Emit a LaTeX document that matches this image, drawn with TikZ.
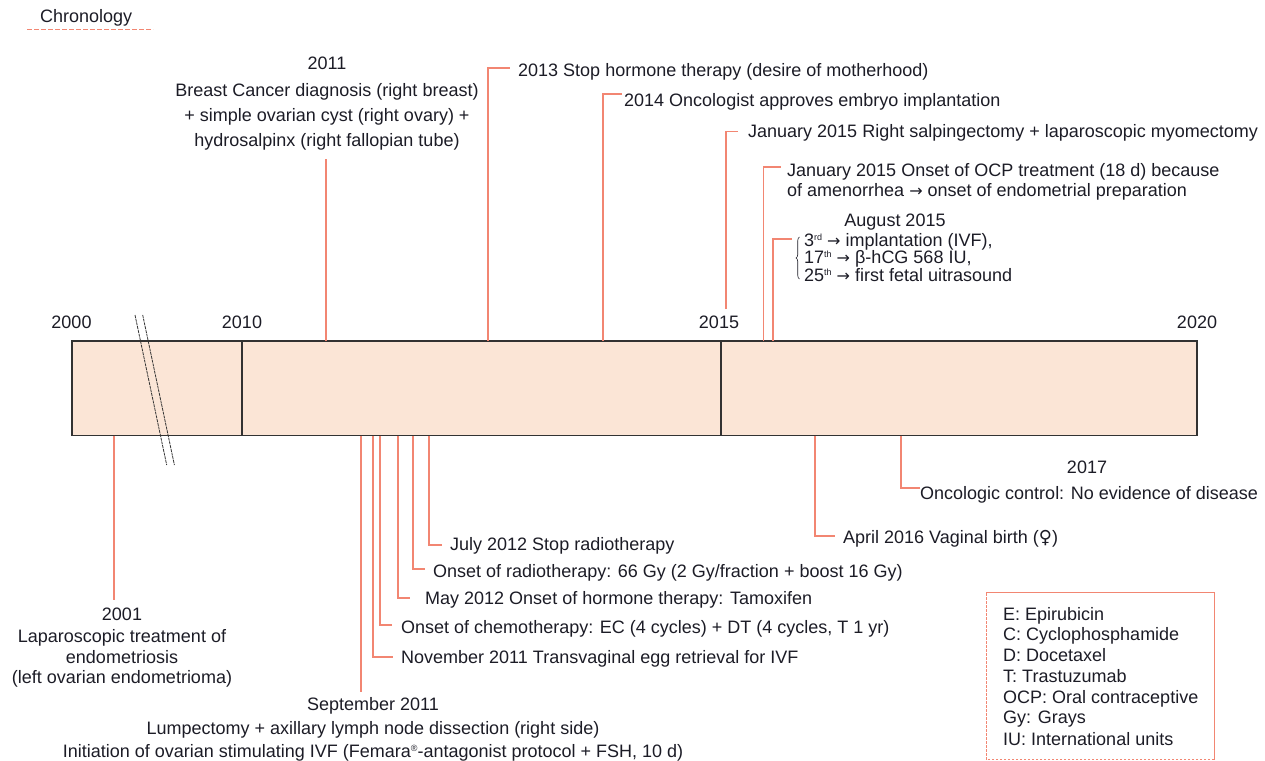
\documentclass[tikz,border=0pt]{standalone}
\usepackage{fontspec}
\setmainfont{Liberation Sans}
\newfontfamily\symfont{DejaVu Sans}
\usetikzlibrary{decorations.pathreplacing}
\definecolor{salmon}{RGB}{242,134,114}
\definecolor{barfill}{RGB}{251,229,214}
\definecolor{ink}{RGB}{28,28,38}
\definecolor{barline}{RGB}{50,50,50}
\newcommand{\rarr}{{\symfont\fontsize{16}{16}\selectfont →}}
\newcommand{\supx}[1]{\raisebox{6pt}{\fontsize{9}{9}\selectfont #1}}
\newcommand{\regmark}{\raisebox{0.28em}{\fontsize{9}{9}\selectfont ®}}
\tikzset{
  conn/.style={draw=salmon, line width=1.3pt},
  txt/.style={inner sep=0pt, text=ink, font=\fontsize{18}{21}\selectfont},
  lt/.style={txt, anchor=base west},
  ct/.style={txt, anchor=base},
  barbox/.style={draw=barline, fill=barfill, line width=1.3pt},
  divider/.style={draw=barline, line width=1.3pt},
  breakline/.style={draw=barline, line width=0.8pt, dash pattern=on 3pt off 0.8pt},
  bracestyle/.style={draw=ink, line width=0.6pt, decorate, decoration={brace, amplitude=3.5pt}},
  legendsolid/.style={draw=salmon, line width=1pt},
  legenddash/.style={draw=salmon, line width=1pt, dash pattern=on 2.5pt off 1.5pt},
  titleline/.style={draw=salmon, line width=1.4pt, dash pattern=on 5pt off 2pt},
}
\begin{document}
\begin{tikzpicture}[x=1pt,y=-1pt]
\useasboundingbox (0,0) rectangle (1265,760);

% title
\node[lt] (tChron) at (40,23) {Chronology};
\coordinate (uL) at (27,29.5);
\coordinate (uR) at (153,29.5);
\draw[titleline] (uL) -- (uR);

% bar
\draw[barbox] (72,341) rectangle (1197,435.5);
\draw[divider] (242,341) -- (242,435.5);
\draw[divider] (721,341) -- (721,435.5);
\draw[breakline] (135,315) -- (166.7,465);
\draw[breakline] (142.7,315) -- (174.4,465);

% years
\node[ct] (y2000) at (71.5,328) {2000};
\node[ct] (y2010) at (242,328) {2010};
\node[ct] (y2015) at (719,328) {2015};
\node[ct] (y2020) at (1197,328) {2020};

% ---------- top events ----------
\node[ct] (t2011a) at (327,69) {2011};
\node[ct] (t2011b) at (327,96) {Breast Cancer diagnosis (right breast)};
\node[ct] (t2011c) at (327,121) {+ simple ovarian cyst (right ovary) +};
\node[ct] (t2011d) at (327,146) {hydrosalpinx (right fallopian tube)};
\coordinate (c2011) at (326,341);
\coordinate (e2011) at (326,159);
\draw[conn] (c2011) -- (e2011);

\node[lt] (t2013) at (518,76) {2013 Stop hormone therapy (desire of motherhood)};
\coordinate (c2013) at (488,341);
\coordinate (e2013) at (510,68);
\draw[conn] (c2013) |- (e2013);

\node[lt] (t2014) at (624,106) {2014 Oncologist approves embryo implantation};
\coordinate (c2014) at (603,341);
\coordinate (e2014) at (622,94);
\draw[conn] (c2014) |- (e2014);

\node[lt] (tSalp) at (748,137.5) {January 2015 Right salpingectomy + laparoscopic myomectomy};
\coordinate (cSalp) at (726,309);
\coordinate (eSalp) at (738,131.5);
\draw[conn] (cSalp) |- (eSalp);

\node[lt] (tOCPa) at (787,176) {January 2015 Onset of OCP treatment (18 d) because};
\node[lt] (tOCPb) at (787,196) {of amenorrhea \rarr{} onset of endometrial preparation};
\coordinate (cOCP) at (763.5,341);
\coordinate (eOCP) at (781,167);
\draw[conn] (cOCP) |- (eOCP);

\node[ct] (tAug) at (895,226) {August 2015};
\node[lt] (tAug1) at (804,246) {3\supx{rd} \rarr{} implantation (IVF),};
\node[lt] (tAug2) at (804,263) {17\supx{th} \rarr{} β-hCG 568 IU,};
\node[lt] (tAug3) at (804,281) {25\supx{th} \rarr{} first fetal uitrasound};
\coordinate (bTop) at (799.5,237);
\coordinate (bBot) at (799.5,279);
\draw[bracestyle] (bBot) -- (bTop);
\coordinate (cAug) at (773,341);
\coordinate (eAug) at (792,239);
\draw[conn] (cAug) |- (eAug);

% ---------- bottom events ----------
\node[ct] (t2001a) at (122,620) {2001};
\node[ct] (t2001b) at (122,642) {Laparoscopic treatment of};
\node[ct] (t2001c) at (122,663) {endometriosis};
\node[ct] (t2001d) at (122,683) {(left ovarian endometrioma)};
\coordinate (c2001) at (114,435.5);
\coordinate (e2001) at (114,600);
\draw[conn] (c2001) -- (e2001);

\node[ct] (tSepa) at (373,710) {September 2011};
\node[ct] (tSepb) at (373,734) {Lumpectomy + axillary lymph node dissection (right side)};
\node[ct] (tSepc) at (373,757) {Initiation of ovarian stimulating IVF (Femara\regmark-antagonist protocol + FSH, 10 d)};
\coordinate (cSep) at (361,435.5);
\coordinate (eSep) at (361,692);
\draw[conn] (cSep) -- (eSep);

\node[lt] (tNov) at (401,663) {November 2011 Transvaginal egg retrieval for IVF};
\coordinate (cNov) at (373,435.5);
\coordinate (eNov) at (393,657);
\draw[conn] (cNov) |- (eNov);

\node[lt] (tChemo) at (401,633) {Onset of chemotherapy: EC (4 cycles) + DT (4 cycles, T 1 yr)};
\coordinate (cChemo) at (380,435.5);
\coordinate (eChemo) at (392,625);
\draw[conn] (cChemo) |- (eChemo);

\node[lt] (tMay) at (425,604) {May 2012 Onset of hormone therapy: Tamoxifen};
\coordinate (cMay) at (398,435.5);
\coordinate (eMay) at (410,598);
\draw[conn] (cMay) |- (eMay);

\node[lt] (tRadio) at (433,577) {Onset of radiotherapy: 66 Gy (2 Gy/fraction + boost 16 Gy)};
\coordinate (cRadio) at (413,435.5);
\coordinate (eRadio) at (425,569);
\draw[conn] (cRadio) |- (eRadio);

\node[lt] (tJuly) at (450,550) {July 2012 Stop radiotherapy};
\coordinate (cJuly) at (429,435.5);
\coordinate (eJuly) at (442,545);
\draw[conn] (cJuly) |- (eJuly);

\node[lt] (tApril) at (843,543) {April 2016 Vaginal birth ({\symfont ♀})};
\coordinate (cApril) at (815,435.5);
\coordinate (eApril) at (835,536);
\draw[conn] (cApril) |- (eApril);

\node[ct] (t2017a) at (1087,473) {2017};
\node[lt] (t2017b) at (920,499) {Oncologic control: No evidence of disease};
\coordinate (c2017) at (901,435.5);
\coordinate (e2017) at (920,488);
\draw[conn] (c2017) |- (e2017);

% ---------- legend ----------
\coordinate (lgTL) at (986,592);
\coordinate (lgTR) at (1214,592);
\coordinate (lgBR) at (1214,759.5);
\coordinate (lgBL) at (986,759.5);
\draw[legendsolid] (lgTL) -- (lgTR) -- (lgBR);
\draw[legenddash] (lgBR) -- (lgBL) -- (lgTL);
\node[lt] (lg1) at (1003,620) {E: Epirubicin};
\node[lt] (lg2) at (1003,640) {C: Cyclophosphamide};
\node[lt] (lg3) at (1003,661) {D: Docetaxel};
\node[lt] (lg4) at (1003,682) {T: Trastuzumab};
\node[lt] (lg5) at (1003,703) {OCP: Oral contraceptive};
\node[lt] (lg6) at (1003,723) {Gy: Grays};
\node[lt] (lg7) at (1003,745) {IU: International units};
\end{tikzpicture}
\end{document}
